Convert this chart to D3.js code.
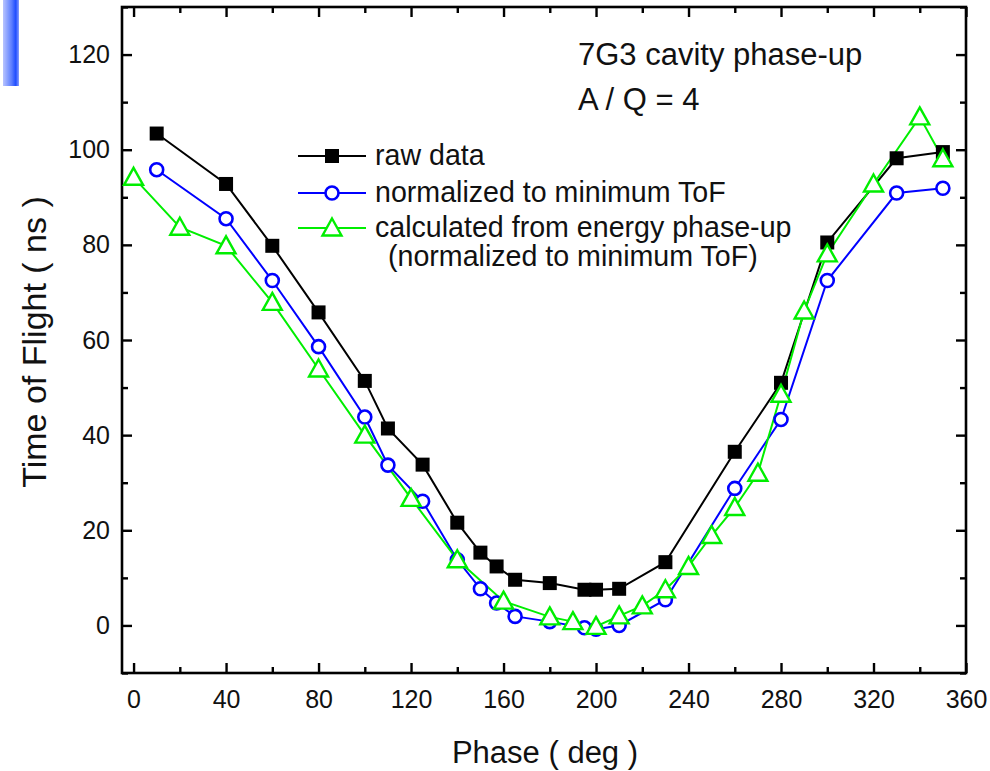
<!DOCTYPE html>
<html>
<head>
<meta charset="utf-8">
<script src="https://cdn.jsdelivr.net/npm/d3@7"></script>
<style>
  body { margin: 0; background: #ffffff; }
  svg { display: block; font-family: "Liberation Sans", Arial, sans-serif; }
</style>
</head>
<body>
<div id="tofChart"></div>
<script>
//********************************************************************//
//
//                    DATA
//
//*******************************************************************//

  var rawPhase = [10, 40, 60, 80, 100, 110, 125, 140, 150, 157, 165, 180, 195, 200, 210, 230, 260, 280, 300, 330, 350];
  var rawTof   = [103.4, 92.8, 79.8, 65.8, 51.4, 41.4, 33.8, 21.6, 15.3, 12.4, 9.6, 8.9, 7.5, 7.5, 7.7, 13.3, 36.5, 51, 80.5, 98.2, 99.5];

  var normPhase = [10, 40, 60, 80, 100, 110, 125, 140, 150, 157, 165, 180, 195, 200, 210, 230, 260, 280, 300, 330, 350];
  var normTof   = [95.8, 85.5, 72.5, 58.6, 43.8, 33.7, 26.1, 13.8, 7.7, 4.7, 1.9, 0.8, -0.5, -0.8, 0, 5.4, 28.8, 43.3, 72.5, 90.9, 91.9];

  var calcPhase = [0, 20, 40, 60, 80, 100, 120, 140, 160, 180, 190, 200, 210, 220, 230, 240, 250, 260, 270, 280, 290, 300, 320, 340, 350];
  var calcTof   = [94.2, 83.7, 79.8, 67.9, 53.9, 40, 26.7, 13.8, 5.1, 1.8, 0.8, -0.2, 2.0, 4.1, 7.5, 12.4, 18.9, 24.8, 32, 48.6, 66.1, 78.1, 92.8, 106.9, 98.1];

  var xMajorTicks = [0, 40, 80, 120, 160, 200, 240, 280, 320, 360];
  var xMinorTicks = [20, 60, 100, 140, 180, 220, 260, 300, 340];
  var yMajorTicks = [0, 20, 40, 60, 80, 100, 120];
  var yMinorTicks = [-10, 10, 30, 50, 70, 90, 110, 130];

  var legendLabels = ["raw data", "normalized to minimum ToF", "calculated from energy phase-up"];
  var legendExtra = "(normalized to minimum ToF)";
  var noteLines = ["7G3 cavity phase-up", "A / Q = 4"];

//********************************************************************//
//
//                    SETUP
//
//*******************************************************************//

var W = 990, H = 771;
var plotL = 122, plotR = 966, plotT = 7, plotB = 673;

var svg = d3.select("#tofChart")
  .append("svg")
    .attr("width", W)
    .attr("height", H);

var x = d3.scaleLinear().domain([-5, 360]).range([plotL, plotR]);
var y = d3.scaleLinear().domain([-10, 130]).range([plotB, plotT]);

// blue strip in the top-left corner of the slide
var grad = svg.append("defs").append("linearGradient")
    .attr("id", "stripGrad").attr("x1", "0%").attr("x2", "100%");
grad.append("stop").attr("offset", "0%").attr("stop-color", "#b8c4ff");
grad.append("stop").attr("offset", "55%").attr("stop-color", "#5a7cff");
grad.append("stop").attr("offset", "80%").attr("stop-color", "#1f4dff");
grad.append("stop").attr("offset", "100%").attr("stop-color", "#8aa0ff");
svg.append("rect")
   .attr("x", 3).attr("y", 0).attr("width", 16).attr("height", 86)
   .attr("fill", "url(#stripGrad)");

//********************************************************************//
//
//                    AXES
//
//*******************************************************************//

function styleAxis(g) {
  g.select(".domain").remove();
  g.selectAll(".tick line").attr("stroke", "#000").attr("stroke-width", 2.4);
  g.selectAll(".tick text").attr("fill", "#111").style("font-size", "25px");
}

// bottom
svg.append("g").attr("transform", "translate(0," + plotB + ")")
   .call(d3.axisBottom(x).tickValues(xMajorTicks).tickSize(-10).tickPadding(12).tickFormat(d3.format("d")))
   .call(styleAxis)
   .selectAll(".tick text").attr("dy", "0.9em");
svg.append("g").attr("transform", "translate(0," + plotB + ")")
   .call(d3.axisBottom(x).tickValues(xMinorTicks).tickSize(-6).tickFormat(""))
   .call(styleAxis);
// top
svg.append("g").attr("transform", "translate(0," + plotT + ")")
   .call(d3.axisTop(x).tickValues(xMajorTicks).tickSize(-10).tickFormat(""))
   .call(styleAxis);
svg.append("g").attr("transform", "translate(0," + plotT + ")")
   .call(d3.axisTop(x).tickValues(xMinorTicks).tickSize(-6).tickFormat(""))
   .call(styleAxis);
// left
svg.append("g").attr("transform", "translate(" + plotL + ",0)")
   .call(d3.axisLeft(y).tickValues(yMajorTicks).tickSize(-10).tickPadding(12).tickFormat(d3.format("d")))
   .call(styleAxis);
svg.append("g").attr("transform", "translate(" + plotL + ",0)")
   .call(d3.axisLeft(y).tickValues(yMinorTicks).tickSize(-6).tickFormat(""))
   .call(styleAxis);
// right
svg.append("g").attr("transform", "translate(" + plotR + ",0)")
   .call(d3.axisRight(y).tickValues(yMajorTicks).tickSize(-10).tickFormat(""))
   .call(styleAxis);
svg.append("g").attr("transform", "translate(" + plotR + ",0)")
   .call(d3.axisRight(y).tickValues(yMinorTicks).tickSize(-6).tickFormat(""))
   .call(styleAxis);

// frame
svg.append("rect")
   .attr("x", plotL).attr("y", plotT)
   .attr("width", plotR - plotL).attr("height", plotB - plotT)
   .attr("fill", "none").attr("stroke", "#000").attr("stroke-width", 2.6);

// axis titles
svg.append("text")
   .attr("x", 545).attr("y", 763)
   .attr("text-anchor", "middle")
   .style("font-size", "31px").attr("fill", "#111")
   .text("Phase ( deg )");
svg.append("text")
   .attr("transform", "translate(46,342) rotate(-90)")
   .attr("text-anchor", "middle")
   .style("font-size", "34px").attr("fill", "#111")
   .text("Time of Flight ( ns )");

//********************************************************************//
//
//                    SERIES
//
//*******************************************************************//

function toPoints(xs, ys) {
  return xs.map(function(d, i) { return {ph: d, tof: ys[i]}; });
}

var lineGen = d3.line()
  .x(function(d) { return x(d.ph); })
  .y(function(d) { return y(d.tof); });

function drawSquare(g, cx, cy) {
  g.append("rect").attr("x", cx - 7).attr("y", cy - 7)
   .attr("width", 14).attr("height", 14).attr("fill", "#000");
}
function drawCircle(g, cx, cy) {
  g.append("circle").attr("cx", cx).attr("cy", cy).attr("r", 6.5)
   .attr("fill", "#fff").attr("stroke", "#0000ff").attr("stroke-width", 2.6);
}
function drawTriangle(g, cx, cy) {
  var p = [[cx, cy - 9.5], [cx + 9.5, cy + 7.5], [cx - 9.5, cy + 7.5]];
  g.append("path").attr("d", "M" + p.join("L") + "Z")
   .attr("fill", "#fff").attr("stroke", "#00ee00").attr("stroke-width", 2.4)
   .attr("stroke-linejoin", "miter");
}

var series = [
  {pts: toPoints(rawPhase, rawTof), color: "#000", marker: drawSquare},
  {pts: toPoints(normPhase, normTof), color: "#0000ff", marker: drawCircle},
  {pts: toPoints(calcPhase, calcTof), color: "#00ee00", marker: drawTriangle}
];

series.forEach(function(s) {
  svg.append("path")
     .datum(s.pts)
     .attr("d", lineGen)
     .attr("fill", "none")
     .attr("stroke", s.color)
     .attr("stroke-width", 2);
});
// markers on top, in order
series.forEach(function(s) {
  var g = svg.append("g");
  s.pts.forEach(function(d) { s.marker(g, x(d.ph), y(d.tof)); });
});

//********************************************************************//
//
//                    LEGEND + NOTES
//
//*******************************************************************//

var legendY = [156, 193, 228];
series.forEach(function(s, i) {
  var g = svg.append("g");
  g.append("line")
   .attr("x1", 298).attr("x2", 366)
   .attr("y1", legendY[i]).attr("y2", legendY[i])
   .attr("stroke", s.color).attr("stroke-width", 2);
  s.marker(g, 332, legendY[i]);
  g.append("text")
   .attr("x", 375).attr("y", legendY[i] + 9)
   .style("font-size", "28.6px").attr("fill", "#111")
   .text(legendLabels[i]);
});
svg.append("text")
   .attr("x", 388).attr("y", 266)
   .style("font-size", "28.6px").attr("fill", "#111")
   .text(legendExtra);

svg.selectAll(".note")
   .data(noteLines)
   .enter()
   .append("text")
     .attr("class", "note")
     .attr("x", 578)
     .attr("y", function(d, i) { return 65 + i * 45; })
     .style("font-size", "31px").attr("fill", "#111")
     .text(function(d) { return d; });
</script>
</body>
</html>
